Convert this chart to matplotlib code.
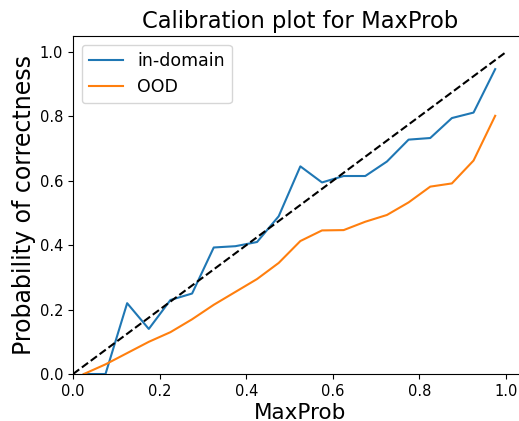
import numpy as np
import matplotlib
matplotlib.use('Agg')
from matplotlib import pyplot as plt

bins = np.arange(0.025, 1.0, 0.05)
in_domain = [0.0, 0.0, 0.22, 0.14, 0.23, 0.25, 0.393, 0.397, 0.41, 0.49,
             0.645, 0.595, 0.615, 0.615, 0.66, 0.728, 0.733, 0.795, 0.812, 0.947]
ood = [0.0, 0.03, 0.065, 0.1, 0.13, 0.17, 0.215, 0.255, 0.295, 0.345,
       0.413, 0.446, 0.447, 0.473, 0.494, 0.533, 0.582, 0.592, 0.663, 0.802]

fig = plt.figure(figsize=(5.19, 4.21), dpi=100)
ax = fig.add_axes([0.1407, 0.1116, 0.876, 0.803])
ax.plot(bins, in_domain, label='in-domain')
ax.plot(bins, ood, label='OOD')
ax.plot([0, 1], [0, 1], 'k--')
ax.set_xlim(0, 1.05)
ax.set_ylim(0, 1.05)
ax.spines['right'].set_visible(False)  # cropped off in the original
ax.set_title('Calibration plot for MaxProb', fontsize=16.3)
ax.set_xlabel('MaxProb', fontsize=15.5, labelpad=3)
ax.set_ylabel('Probability of correctness', fontsize=17, labelpad=3)
ax.tick_params(labelsize=10.5)
ax.legend(loc='upper left', fontsize=12.5)
fig.savefig('out.png')
